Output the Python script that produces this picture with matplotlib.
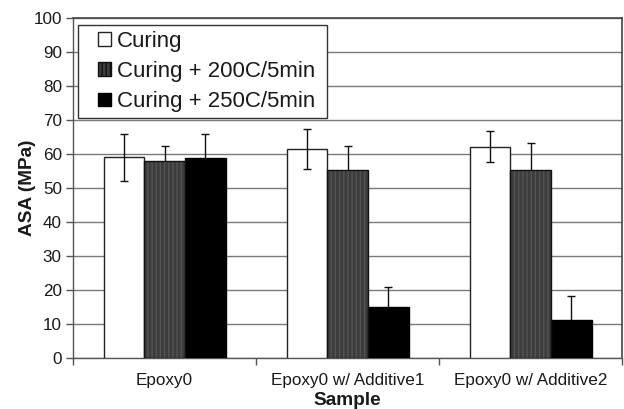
import matplotlib
matplotlib.use("Agg")
import matplotlib.pyplot as plt
import numpy as np
from matplotlib.patches import Patch, Rectangle
from matplotlib.legend_handler import HandlerPatch

plt.rcParams['font.family'] = ['Liberation Sans', 'DejaVu Sans']
plt.rcParams['hatch.linewidth'] = 1.0

samples = ["Epoxy0", "Epoxy0 w/ Additive1", "Epoxy0 w/ Additive2"]
series = ["Curing", "Curing + 200C/5min", "Curing + 250C/5min"]
curing = [59.0, 61.5, 62.2]
curing_err = [7.0, 5.8, 4.6]
c200 = [57.9, 55.3, 55.3]
c200_err = [4.5, 7.1, 8.0]
c250 = [58.7, 14.9, 11.2]
c250_err = [7.1, 6.0, 7.0]
yticks = [0, 10, 20, 30, 40, 50, 60, 70, 80, 90, 100]

text_col = '#1a1a1a'
grid_col = '#7a7a7a'
dark_face = '#3c3c3c'
stripe_col = '#545454'

fig = plt.figure(figsize=(6.24, 4.09), dpi=100)
ax = fig.add_axes([73 / 624, 1 - 358 / 409, 549 / 624, 340 / 409])

x = np.arange(len(samples))
w = 1 / 4.5
vals = [curing, c200, c250]
errs = [curing_err, c200_err, c250_err]
offsets = [-w, 0, w]

# white bars
ax.bar(x + offsets[0], vals[0], w, color='white', edgecolor='#222222',
       linewidth=1.0, zorder=3)
# striped dark bars: hatch layer then outline
ax.bar(x + offsets[1], vals[1], w, color=dark_face, edgecolor=stripe_col,
       hatch='||||', linewidth=0, zorder=3)
ax.bar(x + offsets[1], vals[1], w, fill=False, edgecolor='#111111',
       linewidth=1.0, zorder=3.1)
# black bars
ax.bar(x + offsets[2], vals[2], w, color='black', edgecolor='black',
       linewidth=1.0, zorder=3)

# error bars: the lower half sits behind the filled dark bars
err_z = [4, 2.5, 2.5]
for off, v, e, z in zip(offsets, vals, errs, err_z):
    ax.errorbar(x + off, v, yerr=e, fmt='none', ecolor='#111111',
                elinewidth=1.0, capsize=3, capthick=1.0, zorder=z)

ax.set_xlim(-0.5, 2.5)
ax.set_ylim(0, 100)
ax.set_yticks(yticks)
ax.set_yticklabels([str(t) for t in yticks])
ax.yaxis.grid(True, color=grid_col, linewidth=1.0, zorder=0)
ax.set_axisbelow(True)

ax.set_xticks(x)
ax.set_xticklabels(samples)
ax.set_xticks([-0.5, 0.5, 1.5, 2.5], minor=True)
ax.tick_params(axis='x', which='major', length=0, pad=11,
               labelsize=12.3, labelcolor=text_col)
ax.tick_params(axis='x', which='minor', length=5, width=1, color='#555555',
               direction='out')
ax.tick_params(axis='y', length=5, width=1, color='#555555', pad=3,
               labelsize=12.3, labelcolor=text_col)

for side in ['left', 'bottom']:
    ax.spines[side].set_color('#555555')
    ax.spines[side].set_linewidth(1.0)
for side in ['top', 'right']:
    ax.spines[side].set_color('#444444')
    ax.spines[side].set_linewidth(1.2)

ax.set_ylabel("ASA (MPa)", fontsize=13.7, fontweight='bold', color=text_col,
              labelpad=-2)
ax.set_xlabel("Sample", fontsize=13.7, fontweight='bold', color=text_col,
              labelpad=3)


def square_patch(legend, orig_handle, xdescent, ydescent, width, height,
                 fontsize):
    # a small square at the right end of the handle box
    side = 0.62 * fontsize
    x0 = width - side - 0.25 * fontsize - xdescent
    y0 = (height - side) / 2 - ydescent
    return Rectangle((x0, y0), side, side)


handles = [
    Patch(facecolor='white', edgecolor='#222222', linewidth=1.0),
    Patch(facecolor=dark_face, edgecolor='#111111', hatch='||||',
          linewidth=1.0),
    Patch(facecolor='black', edgecolor='black', linewidth=1.0),
]
leg = ax.legend(handles, series, loc='upper left',
                bbox_to_anchor=(5 / 549, 0.5, 249 / 549, 0.4794),
                mode='expand', borderaxespad=0,
                fontsize=16, fancybox=False, framealpha=1,
                edgecolor='#333333', handlelength=1.5, handleheight=0.7,
                handletextpad=0.0, labelspacing=0.42, borderpad=0.25,
                handler_map={Patch: HandlerPatch(patch_func=square_patch)})
leg.get_frame().set_linewidth(1.0)
for t in leg.get_texts():
    t.set_color(text_col)
leg.set_zorder(5)

fig.savefig("out.png", dpi=100)
